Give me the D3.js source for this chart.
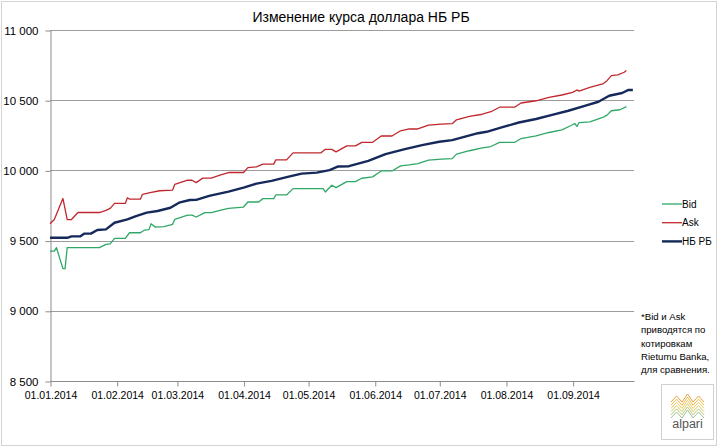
<!DOCTYPE html>
<html>
<head>
<meta charset="utf-8">
<script src="https://cdn.jsdelivr.net/npm/d3@7"></script>
<style>
  body { margin: 0; background: #fff; }
  svg { display: block; font-family: "Liberation Sans", Arial, sans-serif; }
</style>
</head>
<body>
<div id="main"></div>
<script>
const title = "Изменение курса доллара НБ РБ";

const yTicks = [8500, 9000, 9500, 10000, 10500, 11000];

const bidDates = ["01.01", "03.01", "04.01", "07.01", "08.01", "09.01", "24.01", "27.01", "29.01", "31.01",
  "05.02", "07.02", "12.02", "14.02", "16.02", "17.02", "19.02", "23.02", "27.02", "28.02",
  "06.03", "08.03", "10.03", "14.03", "17.03", "21.03", "25.03", "01.04", "03.04", "08.04",
  "10.04", "15.04", "16.04", "21.04", "24.04", "08.05", "09.05", "12.05", "14.05", "19.05",
  "23.05", "26.05", "31.05", "04.06", "09.06", "13.06", "17.06", "21.06", "26.06", "02.07",
  "07.07", "09.07", "15.07", "21.07", "25.07", "29.07", "05.08", "08.08", "15.08", "21.08",
  "27.08", "31.08", "02.09", "03.09", "04.09", "09.09", "15.09", "17.09", "19.09", "23.09", "26.09"];
const bidValues = [9425, 9425, 9450, 9300, 9300, 9450, 9450, 9473, 9477, 9516,
  9516, 9556, 9556, 9575, 9578, 9620, 9596, 9600, 9616, 9651,
  9682, 9682, 9668, 9699, 9699, 9716, 9730, 9739, 9775, 9775,
  9799, 9799, 9825, 9825, 9870, 9870, 9846, 9894, 9877, 9920,
  9920, 9944, 9954, 9996, 9996, 10032, 10039, 10049, 10073, 10080,
  10084, 10116, 10140, 10160, 10170, 10199, 10199, 10227, 10246, 10270,
  10289, 10318, 10334, 10313, 10341, 10346, 10377, 10394, 10425, 10432, 10454];

const askDates = ["01.01", "03.01", "07.01", "09.01", "11.01", "14.01", "24.01", "27.01", "29.01", "31.01",
  "05.02", "06.02", "07.02", "12.02", "13.02", "16.02", "21.02", "27.02", "28.02", "06.03",
  "08.03", "10.03", "13.03", "17.03", "21.03", "25.03", "01.04", "03.04", "07.04", "10.04",
  "15.04", "16.04", "21.04", "24.04", "07.05", "09.05", "12.05", "14.05", "19.05", "23.05",
  "26.05", "31.05", "04.06", "09.06", "13.06", "17.06", "21.06", "26.06", "02.07", "07.07",
  "09.07", "15.07", "21.07", "25.07", "29.07", "05.08", "08.08", "15.08", "21.08", "27.08",
  "01.09", "03.09", "04.09", "09.09", "15.09", "17.09", "19.09", "22.09", "25.09", "26.09"];
const askValues = [9620, 9650, 9800, 9650, 9650, 9700, 9700, 9715, 9730, 9765,
  9765, 9805, 9795, 9795, 9830, 9840, 9855, 9860, 9900, 9930,
  9930, 9913, 9945, 9945, 9966, 9985, 9985, 10020, 10025, 10045,
  10045, 10075, 10075, 10125, 10125, 10150, 10150, 10132, 10175, 10175,
  10200, 10200, 10245, 10245, 10282, 10295, 10295, 10323, 10330, 10333,
  10360, 10385, 10400, 10418, 10450, 10450, 10480, 10496, 10520, 10537,
  10556, 10573, 10565, 10591, 10616, 10639, 10675, 10680, 10699, 10711];

const nbDates = ["01.01", "09.01", "11.01", "15.01", "17.01", "20.01", "23.01", "27.01", "31.01", "06.02",
  "10.02", "15.02", "20.02", "26.02", "02.03", "07.03", "10.03", "16.03", "25.03", "01.04",
  "07.04", "14.04", "22.04", "28.04", "05.05", "11.05", "15.05", "20.05", "29.05", "06.06",
  "15.06", "23.06", "01.07", "07.07", "13.07", "19.07", "23.07", "30.07", "07.08", "15.08",
  "22.08", "30.08", "07.09", "13.09", "18.09", "24.09", "27.09", "29.09"];
const nbValues = [9520, 9520, 9530, 9530, 9550, 9550, 9575, 9580, 9627, 9651,
  9675, 9699, 9711, 9734, 9770, 9789, 9790, 9818, 9849, 9877,
  9906, 9925, 9956, 9977, 9984, 10002, 10028, 10030, 10068, 10116,
  10151, 10180, 10204, 10216, 10241, 10265, 10275, 10306, 10341, 10366,
  10394, 10425, 10461, 10489, 10532, 10551, 10573, 10573];

const footnote = ["*Bid и Ask", "приводятся по", "котировкам", "Rietumu Banka,", "для сравнения."];

const parse = d3.timeParse("%d.%m.%Y");
const toPoints = (dates, values) => dates.map((d, i) => ({ date: parse(d + ".2014"), value: values[i] }));

const series = [
  { name: "Bid", color: "#2fa866", width: 1.3, points: toPoints(bidDates, bidValues) },
  { name: "Ask", color: "#c0282d", width: 1.3, points: toPoints(askDates, askValues) },
  { name: "НБ РБ", color: "#15295a", width: 2.4, points: toPoints(nbDates, nbValues) }
];

const width = 720, height = 448;
const plotLeft = 50, plotRight = 635, plotTop = 30, plotBottom = 381;

const svg = d3.select("#main")
  .append("svg")
  .attr("width", width)
  .attr("height", height);

svg.append("rect")
  .attr("x", 1.5).attr("y", 1.5)
  .attr("width", 715).attr("height", 444)
  .attr("fill", "#fff")
  .attr("stroke", "#d4d4d4");

const x = d3.scaleTime()
  .domain([parse("01.01.2014"), parse("30.09.2014")])
  .range([plotLeft, plotRight]);

const y = d3.scaleLinear()
  .domain([8500, 11000])
  .range([plotBottom, plotTop]);

const fmt = d3.formatLocale({ decimal: ",", thousands: " ", grouping: [3], currency: ["", ""] }).format(",");

// gridlines
svg.append("g")
  .selectAll("line")
  .data(yTicks.filter(d => d > 8500))
  .join("line")
  .attr("x1", plotLeft).attr("x2", 634)
  .attr("y1", d => Math.round(y(d)) + 0.5)
  .attr("y2", d => Math.round(y(d)) + 0.5)
  .attr("stroke", "#9c9c9c");

// y axis
const yAxis = svg.append("g")
  .attr("transform", `translate(${plotLeft + 0.5},0.5)`)
  .call(d3.axisLeft(y).tickValues(yTicks).tickFormat(fmt).tickSize(5).tickSizeOuter(0));
yAxis.select(".domain").attr("stroke", "#8c8c8c");
yAxis.selectAll(".tick line").attr("stroke", "#8c8c8c");
yAxis.selectAll(".tick text")
  .attr("x", -12)
  .attr("font-family", "Liberation Sans, Arial, sans-serif")
  .attr("font-size", 11.5)
  .attr("fill", "#000");

// x axis
const xAxis = svg.append("g")
  .attr("transform", `translate(0.5,${plotBottom + 0.5})`)
  .call(d3.axisBottom(x)
    .tickValues(d3.timeMonth.range(parse("01.01.2014"), parse("30.09.2014")))
    .tickFormat(d3.timeFormat("%d.%m.%Y"))
    .tickSize(5).tickSizeOuter(0));
xAxis.select(".domain").attr("d", `M${plotLeft},0H634`).attr("stroke", "#8c8c8c");
xAxis.selectAll(".tick line").attr("stroke", "#8c8c8c");
xAxis.selectAll(".tick text")
  .attr("y", 10)
  .attr("font-family", "Liberation Sans, Arial, sans-serif")
  .attr("font-size", 10.5)
  .attr("fill", "#000");

// series lines
const line = d3.line()
  .x(d => x(d.date))
  .y(d => y(d.value));

svg.append("g")
  .selectAll("path")
  .data(series)
  .join("path")
  .attr("d", d => line(d.points))
  .attr("fill", "none")
  .attr("stroke", d => d.color)
  .attr("stroke-width", d => d.width)
  .attr("stroke-linejoin", "round");

// title
svg.append("text")
  .attr("x", 361)
  .attr("y", 22)
  .attr("text-anchor", "middle")
  .attr("font-size", 14)
  .attr("fill", "#000")
  .text(title);

// legend
const legend = svg.append("g")
  .selectAll("g")
  .data(series)
  .join("g")
  .attr("transform", (d, i) => `translate(662,${204 + i * 18.7})`);
legend.append("line")
  .attr("x1", 0).attr("x2", 20)
  .attr("stroke", d => d.color)
  .attr("stroke-width", d => d.width);
legend.append("text")
  .attr("x", 20)
  .attr("dy", "0.35em")
  .attr("font-size", 10)
  .attr("fill", "#000")
  .text(d => d.name);

// footnote
svg.append("g")
  .selectAll("text")
  .data(footnote)
  .join("text")
  .attr("x", 641)
  .attr("y", (d, i) => 320 + i * 13.3)
  .attr("font-size", 9.6)
  .attr("fill", "#000")
  .text(d => d);

// alpari logo
const logo = svg.append("g").attr("transform", "translate(661,384)");
logo.append("rect")
  .attr("x", 0.5).attr("y", 0.5)
  .attr("width", 52).attr("height", 55)
  .attr("fill", "#fff")
  .attr("stroke", "#d0d0d0");
const waveColors = ["#e8a33a", "#efb849", "#f0c95a", "#d9cf6a", "#b8c978", "#9cc287"];
logo.append("g")
  .selectAll("path")
  .data(waveColors)
  .join("path")
  .attr("d", (c, i) => {
    const y0 = 18 + i * 3.2;
    const pts = d3.range(0, 7).map(k => [10 + k * 5.5, y0 - (k % 2 ? 6 : 0) + (k === 3 ? -2 : 0)]);
    return d3.line()(pts);
  })
  .attr("fill", "none")
  .attr("stroke", c => c)
  .attr("stroke-width", 1);
logo.append("text")
  .attr("x", 26.5)
  .attr("y", 44)
  .attr("text-anchor", "middle")
  .attr("font-size", 12.5)
  .attr("fill", "#555")
  .text("alpari");
</script>
</body>
</html>
